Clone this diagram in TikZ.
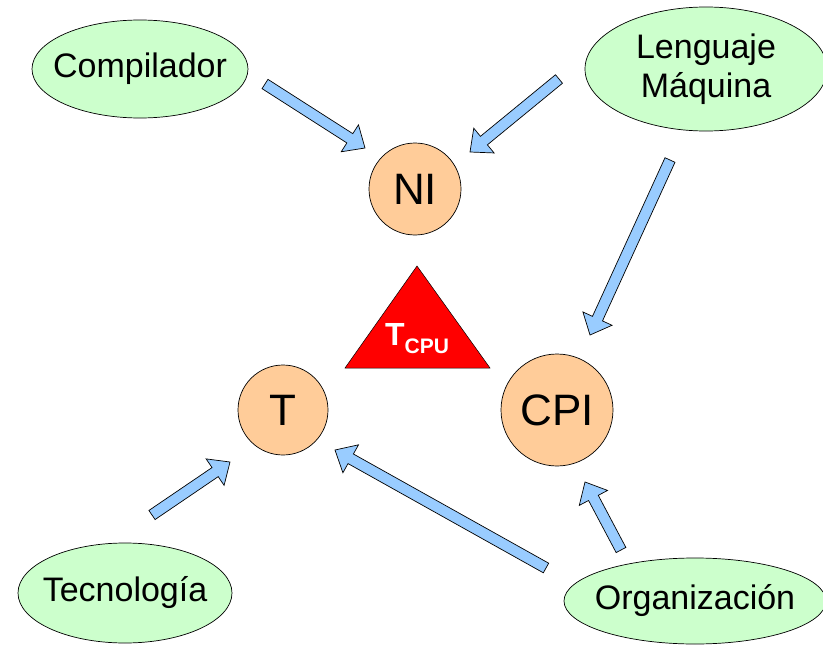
\documentclass[tikz,border=0pt]{standalone}
\usepackage{fontspec}
\setmainfont{Liberation Sans}
\usetikzlibrary{shapes.geometric,calc}
\definecolor{leaf}{HTML}{CCFFCC}
\definecolor{peach}{HTML}{FFCC99}
\definecolor{sky}{HTML}{99CCFF}

% fat outlined arrow from #1 to #2
\newcommand{\fatarrow}[2]{%
  \coordinate (neck) at ($(#2)!18pt!(#1)$);
  \draw[blockarrow] ($(#1)!5.5pt!90:(#2)$) -- ($(neck)!5.5pt!90:(#2)$)
    -- ($(neck)!16pt!90:(#2)$) -- (#2) -- ($(neck)!16pt!-90:(#2)$)
    -- ($(neck)!5.5pt!-90:(#2)$) -- ($(#1)!5.5pt!-90:(#2)$) -- cycle;}

\begin{document}
\begin{tikzpicture}[x=1pt,y=-1pt,
  idea/.style={ellipse,draw=black,line width=.7pt,fill=leaf,inner xsep=-60pt,inner ysep=0pt,
    font=\fontsize{34}{39}\selectfont},
  factor/.style={circle,draw=black,line width=.7pt,fill=peach,inner sep=0pt,
    font=\fontsize{44}{44}\selectfont},
  blockarrow/.style={draw=black,line width=.7pt,fill=sky,line join=miter}]
  \useasboundingbox (0,0) rectangle (823,645);
  \node[idea,minimum width=216pt,minimum height=98pt] (comp) at (140,69) {Compilador};
  \node[idea,minimum width=242pt,minimum height=124pt,align=center] (lm) at (706,69) {Lenguaje\\Máquina};
  \node[idea,minimum width=214pt,minimum height=100pt] (tec) at (125,593) {Tecnología};
  \node[idea,minimum width=262pt,minimum height=86pt] (org) at (695,601) {Organización};
  \node[factor,minimum size=92pt] (ni) at (415,189) {NI};
  \node[factor,minimum size=90pt] (t) at (283,410) {T};
  \node[factor,minimum size=112pt] (cpi) at (557,410) {CPI};
  \draw[draw=black,line width=.5pt,fill=red] (417,266) -- (490,368) -- (345,368) -- cycle;
  \node[anchor=base,text=white,font=\bfseries\fontsize{32}{32}\selectfont] (tcpu) at (417,345)
    {T\raisebox{-8pt}{\fontsize{21}{21}\selectfont CPU}};
  % arrow ends
  \coordinate (comp-out) at (265,84);
  \coordinate (ni-in1) at (365,148);
  \coordinate (lm-out1) at (559,79);
  \coordinate (ni-in2) at (470,152);
  \coordinate (lm-out2) at (670,160);
  \coordinate (cpi-in1) at (590,335);
  \coordinate (tec-out) at (152,515);
  \coordinate (t-in1) at (230,462);
  \coordinate (org-out1) at (546,568);
  \coordinate (t-in2) at (335,450);
  \coordinate (org-out2) at (621,550);
  \coordinate (cpi-in2) at (585,482);
  \fatarrow{comp-out}{ni-in1}
  \fatarrow{lm-out1}{ni-in2}
  \fatarrow{lm-out2}{cpi-in1}
  \fatarrow{tec-out}{t-in1}
  \fatarrow{org-out1}{t-in2}
  \fatarrow{org-out2}{cpi-in2}
\end{tikzpicture}
\end{document}
